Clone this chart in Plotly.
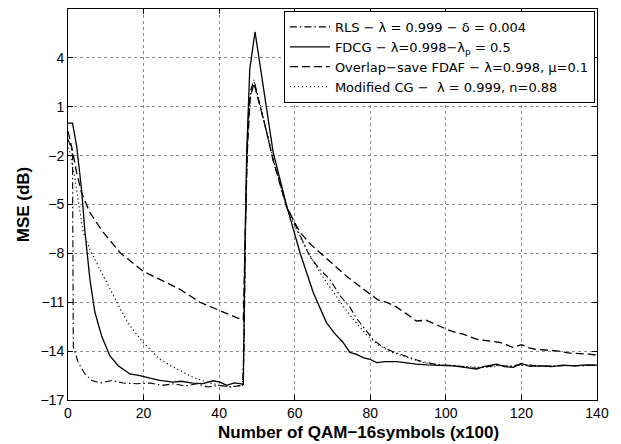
import plotly.graph_objects as go

# ---- data ----
fdcg_x = [0, 1.2, 2.3, 3.6, 4.5, 5.8, 7.1, 8.9, 11.1, 13.3, 16.4, 19, 21.7, 24.3, 27.8, 30, 33, 35.7, 38.4, 40.2, 42, 44, 45.5, 46.4,
          46.8, 47.3, 48.1, 49.5, 51.7, 54.3, 57.9, 61.4, 64.9, 68.4, 70.5, 72.8, 74.6, 76.4, 78.1, 79.9, 81.7, 84, 87, 90, 92.2,
          95, 98.4, 102, 105, 108.1, 110, 113.4, 115.5, 117.8, 120, 122.2, 125, 128, 131, 134, 137, 140]
fdcg_y = [0.0, 0.0, -1.43, -4.1, -6.7, -9.6, -11.6, -13.07, -14.3, -14.9, -15.4, -15.5, -15.66, -15.8, -15.9, -15.85, -15.96, -16.0,
          -15.82, -15.9, -16.1, -15.95, -16.0, -16.05,
          -7.9, -1.8, 3.3, 5.6, 2.2, -1.8, -5.1, -7.96, -10.4, -12.25, -12.9, -13.47, -14.08, -14.2, -14.4, -14.5, -14.7, -14.65,
          -14.65, -14.75, -14.8, -14.85, -14.86, -14.9, -15.0, -15.1, -14.95, -14.8, -14.95, -15.0, -14.76, -14.94, -14.9, -14.95,
          -14.86, -14.9, -14.85, -14.86]

rls_x = [0, 0.8, 1.2, 1.4, 2.7, 4.5, 6.3, 8.5, 11.6, 14.6, 18.2, 21.7, 25, 28, 31, 34, 37, 40, 43, 46.2,
         46.6, 47.0, 47.6, 48.3, 49.2, 50.5, 51.7, 54.3, 57.9, 61.4, 64, 66.7, 69.3, 72, 74.6, 76.4, 78.1, 80.8, 83, 86.1,
         90, 93.1, 96, 98.4, 102, 105, 108, 111, 114, 117, 120, 124, 128, 132, 136, 140]
rls_y = [-1.0, -1.5, -2.0, -13.7, -14.7, -15.4, -15.8, -15.96, -15.8, -15.96, -16.0, -15.96, -16.1, -16.0, -16.15, -16.0, -16.2,
         -16.1, -16.2, -16.1,
         -14.0, -6.0, 0.0, 2.0, 2.65, 1.4, 0.2, -2.25, -5.1, -6.94, -8.2, -9.0, -9.6, -10.6, -11.3, -12.0, -12.5, -13.3, -13.7,
         -14.05, -14.35, -14.6, -14.75, -14.85, -14.88, -14.95, -15.05, -14.95, -14.85, -14.95, -14.8, -14.9, -14.92, -14.88,
         -14.9, -14.85]

osf_x = [0, 1.0, 2.3, 3.6, 5.8, 9.3, 13.8, 19.9, 24.3, 29.6, 34.9, 39.3, 41.1, 44.6, 46.4,
         46.8, 47.4, 48.2, 49.2, 50.5, 52, 54.3, 57.9, 61.4, 64, 66.7, 69.3, 73.7, 76.5, 79.9, 82, 84.3, 87, 89.5, 92.2,
         94.8, 97.5, 100.2, 102.5, 104.6, 108.1, 111.6, 114.3, 116, 117.8, 120, 122, 124, 126.5, 129.3, 132.8, 135.5, 138.1, 140]
osf_y = [-0.5, -1.5, -3.06, -4.3, -5.5, -6.7, -7.96, -9.1, -9.6, -10.2, -11.0, -11.4, -11.6, -11.94, -12.1,
         -8.0, -2.0, 1.5, 2.45, 1.3, 0.0, -2.3, -5.2, -6.7, -7.4, -7.96, -8.5, -9.4, -9.9, -10.5, -10.85, -11.0, -11.3, -11.7,
         -12.15, -12.1, -12.4, -12.66, -12.85, -12.96, -13.27, -13.37, -13.47, -13.6, -13.78, -13.6, -13.8, -13.9, -13.95,
         -13.98, -14.12, -14.15, -14.19, -14.25]

mcg_x = [0, 0.5, 1.9, 2.3, 4, 5.8, 8.5, 11.1, 13.8, 16.4, 19.9, 24.3, 28.8, 33.1, 36.7, 40, 43, 46.2,
         46.6, 47.1, 47.7, 48.5, 49.3, 50.5, 52, 54.5, 58, 61.4, 64, 67, 70, 73, 76, 79, 82, 86, 90, 94, 98,
         102, 106, 110, 114, 118, 122, 126, 130, 134, 138, 140]
mcg_y = [-1.5, -1.8, -3.5, -4.1, -6.7, -7.76, -9.0, -10.2, -11.4, -12.45, -13.47, -14.5, -15.1, -15.6, -15.9, -16.1, -16.2, -16.1,
         -13.0, -5.0, 0.0, 2.0, 2.5, 1.5, 0.0, -2.4, -5.3, -7.0, -8.1, -9.3, -10.3, -11.3, -12.2, -13.0, -13.6, -14.1, -14.4,
         -14.7, -14.85, -14.9, -14.95, -15.0, -14.9, -14.9, -14.85, -14.9, -14.9, -14.88, -14.9, -14.88]

x_ticks = [0, 20, 40, 60, 80, 100, 120, 140]
y_ticks = [7, 4, 1, -2, -5, -8, -11, -14, -17]

names = [
    "RLS − λ = 0.999 − δ = 0.004",
    "FDCG − λ=0.998−λ<sub>p</sub> = 0.5",
    "Overlap−save FDAF − λ=0.998, μ=0.1",
    "Modified CG −  λ = 0.999, n=0.88",
]
x_title = "<b>Number of QAM−16symbols (x100)</b>"
y_title = "<b>MSE (dB)</b>"

FONT = "Liberation Sans, Arial, Helvetica, sans-serif"
LEG_FONT = "DejaVu Sans, Liberation Sans, sans-serif"

fig = go.Figure()
fig.add_trace(go.Scatter(x=rls_x, y=rls_y, mode="lines", name=names[0],
                         line=dict(color="black", width=1.1, dash="7px,3px,1.5px,3px")))
fig.add_trace(go.Scatter(x=fdcg_x, y=fdcg_y, mode="lines", name=names[1],
                         line=dict(color="black", width=1.3, dash="solid")))
fig.add_trace(go.Scatter(x=osf_x, y=osf_y, mode="lines", name=names[2],
                         line=dict(color="black", width=1.3, dash="8px,4px")))
fig.add_trace(go.Scatter(x=mcg_x, y=mcg_y, mode="lines", name=names[3],
                         line=dict(color="black", width=1.1, dash="1.2px,2.8px")))

axis_common = dict(
    showline=True, linecolor="black", linewidth=1, mirror="ticks",
    ticks="inside", ticklen=5, tickcolor="black",
    showgrid=True, gridcolor="#8a8a8a", gridwidth=0.8, griddash="dot",
    zeroline=False,
    tickfont=dict(family=FONT, size=14, color="black"),
)

fig.update_xaxes(range=[0, 140], tickvals=x_ticks, ticktext=[str(v) for v in x_ticks], **axis_common)
fig.update_yaxes(range=[-17, 7], tickvals=y_ticks, ticktext=[("−" + str(-v)) if v < 0 else str(v) for v in y_ticks],
                 title=dict(text=y_title, standoff=6, font=dict(family=FONT, size=17, color="black")),
                 **axis_common)

# x-axis label sits slightly right of the axes centre in the reference
fig.add_annotation(text=x_title, xref="paper", yref="paper", x=0.55, y=0,
                   xanchor="center", yanchor="top", yshift=-21, showarrow=False,
                   font=dict(family=FONT, size=17, color="black"))

# page body has an 8px margin, so the figure is 8px smaller than the window
fig.update_layout(
    width=613, height=436,
    margin=dict(l=60, r=24, t=1, b=44, autoexpand=False),
    paper_bgcolor="white", plot_bgcolor="white",
    font=dict(family=FONT, size=14, color="black"),
    showlegend=True,
    legend=dict(x=0.996, y=0.995, xanchor="right", yanchor="top",
                bgcolor="white", bordercolor="black", borderwidth=1,
                itemwidth=40, font=dict(family=LEG_FONT, size=13), tracegroupgap=0),
)

fig.write_html("out.html")
